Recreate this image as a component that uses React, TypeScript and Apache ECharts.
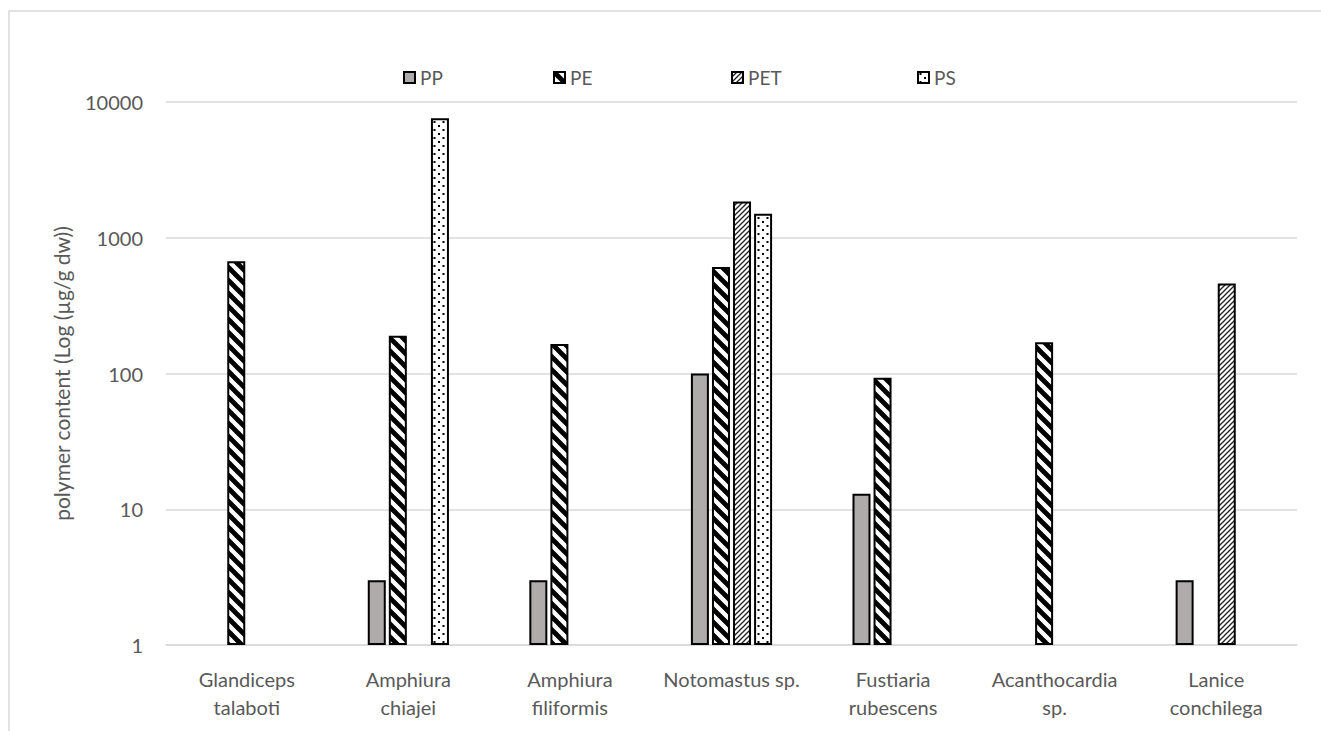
import React, { useEffect, useRef } from "react";
import * as echarts from "echarts";

const categories = [
  "Glandiceps\ntalaboti",
  "Amphiura\nchiajei",
  "Amphiura\nfiliformis",
  "Notomastus sp.",
  "Fustiaria\nrubescens",
  "Acanthocardia\nsp.",
  "Lanice\nconchilega",
];
const seriesNames = ["PP", "PE", "PET", "PS"];
const ppValues = [null, 3, 3, 100, 13, null, 3];
const peValues = [670, 190, 165, 610, 93, 170, null];
const petValues = [null, null, null, 1850, null, null, 460];
const psValues = [null, 7600, null, 1500, null, null, null];
const yTicks = [1, 10, 100, 1000, 10000];

const FONT = "Lato, 'Noto Sans', sans-serif";
const TXT = "#595959";

function makeCanvas(w: number, h: number) {
  const c = document.createElement("canvas");
  c.width = w;
  c.height = h;
  return c;
}

function pePattern() {
  const s = 13;
  const c = makeCanvas(s, s);
  const g = c.getContext("2d")!;
  g.fillStyle = "#fff";
  g.fillRect(0, 0, s, s);
  g.strokeStyle = "#000";
  g.lineWidth = 4.8;
  for (const k of [-s, 0, s]) {
    g.beginPath();
    g.moveTo(k - 2, -2);
    g.lineTo(k + s + 2, s + 2);
    g.stroke();
  }
  return c;
}

function petPattern() {
  const s = 5;
  const c = makeCanvas(s, s);
  const g = c.getContext("2d")!;
  g.fillStyle = "#fff";
  g.fillRect(0, 0, s, s);
  g.strokeStyle = "#222";
  g.lineWidth = 1.3;
  for (const k of [-s, 0, s]) {
    g.beginPath();
    g.moveTo(k - 1, s + 1);
    g.lineTo(k + s + 1, -1);
    g.stroke();
  }
  return c;
}

function psPattern() {
  const w = 9;
  const h = 8;
  const c = makeCanvas(w, h);
  const g = c.getContext("2d")!;
  g.fillStyle = "#fff";
  g.fillRect(0, 0, w, h);
  g.fillStyle = "#000";
  g.fillRect(1.5, 1, 2, 2);
  g.fillRect(6, 5, 2, 2);
  return c;
}

export default function App() {
  const ref = useRef<HTMLDivElement>(null);

  useEffect(() => {
    document.body.style.margin = "0";
    const chart = echarts.init(ref.current!, null, { renderer: "svg" });
    const fills: any[] = [
      "#afabab",
      { image: pePattern(), repeat: "repeat" },
      { image: petPattern(), repeat: "repeat" },
      { image: psPattern(), repeat: "repeat" },
    ];
    const data = [ppValues, peValues, petValues, psValues];
    const legendLefts = [398, 548, 726, 912];

    const option: any = {
      animation: false,
      backgroundColor: "#fff",
      textStyle: { fontFamily: FONT },
      graphic: [
        {
          type: "rect",
          shape: { x: 9, y: 11, width: 1330, height: 740 },
          style: { fill: "none", stroke: "#d9d9d9", lineWidth: 1.5 },
          silent: true,
        },
      ],
      legend: seriesNames.map((n, i) => ({
        data: [n],
        left: legendLefts[i],
        top: 63,
        itemWidth: 11,
        itemHeight: 11,
        icon: "rect",
        textStyle: { color: TXT, fontSize: 19, fontFamily: FONT },
        selectedMode: false,
      })),
      grid: { left: 166, right: 24, top: 102, bottom: 86 },
      xAxis: {
        type: "category",
        data: categories,
        axisLine: { show: true, lineStyle: { color: "#d9d9d9", width: 1.5 } },
        axisTick: { show: false },
        axisLabel: {
          color: TXT,
          fontSize: 20,
          fontFamily: FONT,
          lineHeight: 28,
          margin: 20,
          interval: 0,
        },
      },
      yAxis: {
        type: "log",
        logBase: 10,
        min: yTicks[0],
        max: yTicks[yTicks.length - 1],
        name: "polymer content (Log (µg/g dw))",
        nameLocation: "middle",
        nameGap: 94,
        nameTextStyle: { color: TXT, fontSize: 21, fontFamily: FONT },
        axisLine: { show: false },
        axisTick: { show: false },
        axisLabel: {
          color: TXT,
          fontSize: 20,
          fontFamily: FONT,
          margin: 23,
          formatter: (v: number) => String(Math.round(v)),
        },
        splitLine: { lineStyle: { color: "#d9d9d9", width: 1.5 } },
      },
      series: seriesNames.map((n, i) => ({
        name: n,
        type: "bar",
        data: data[i].map((v) => (v == null ? "-" : v)),
        barWidth: 18,
        barGap: "17%",
        itemStyle: {
          color: fills[i],
          borderColor: "#000",
          borderWidth: 2,
        },
      })),
    };
    chart.setOption(option);
    return () => chart.dispose();
  }, []);

  return <div ref={ref} style={{ width: 1321, height: 731 }} />;
}
